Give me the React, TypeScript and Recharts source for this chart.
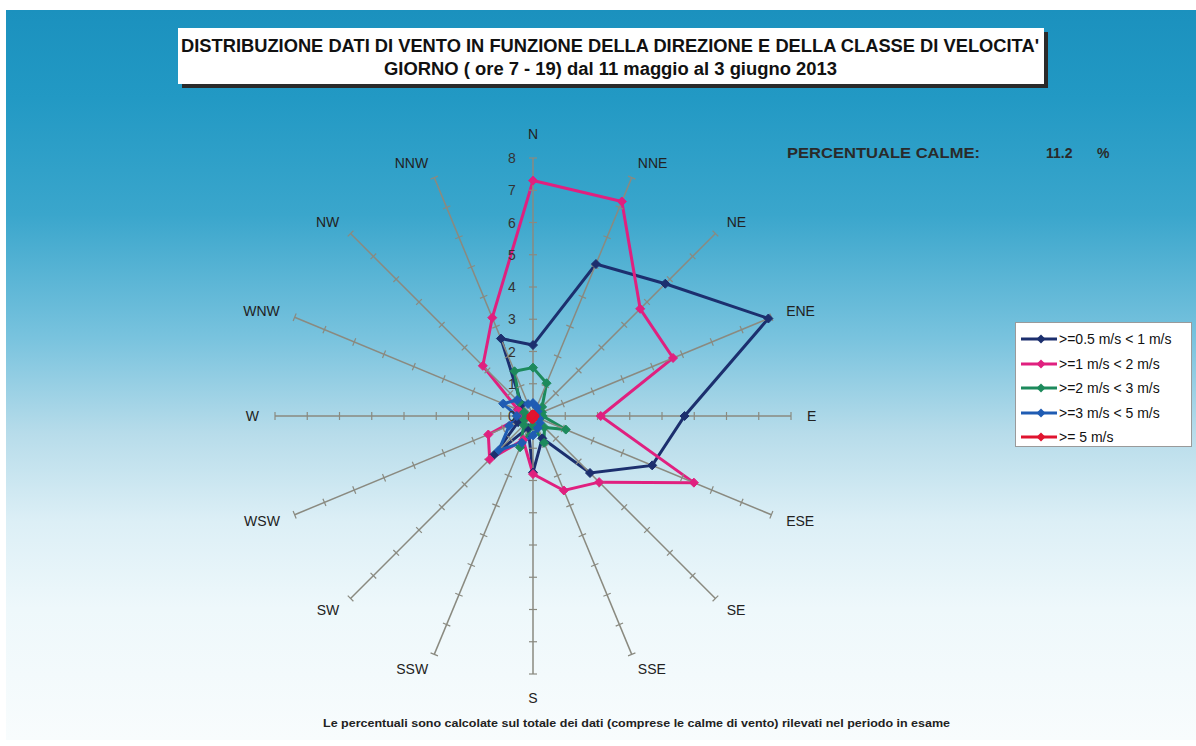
import React from 'react';
import { RadarChart, Radar, PolarAngleAxis, PolarRadiusAxis } from 'recharts';

const DIRECTIONS = ['N', 'NNE', 'NE', 'ENE', 'E', 'ESE', 'SE', 'SSE', 'S', 'SSW', 'SW', 'WSW', 'W', 'WNW', 'NW', 'NNW'];
const SPEED_05_1 = [2.2, 5.1, 5.8, 7.9, 4.7, 4.0, 2.5, 0.75, 1.75, 0.4, 1.7, 0.5, 0.3, 0.5, 0.5, 2.6];
const SPEED_1_2 = [7.3, 7.2, 4.7, 4.7, 2.1, 5.4, 2.9, 2.5, 1.8, 0.8, 1.9, 1.5, 0.3, 0.5, 2.2, 3.3];
const SPEED_2_3 = [1.5, 1.1, 0.4, 0.3, 0.3, 1.1, 0.5, 0.9, 0.3, 1.05, 0.4, 0.3, 0.2, 0.3, 0.6, 1.5];
const SPEED_3_5 = [0.4, 0.3, 0.2, 0.1, 0.1, 0.2, 0.3, 0.4, 0.6, 0.9, 1.5, 0.8, 0.5, 1.0, 0.7, 0.4];
const SPEED_5 = [0.05, 0.05, 0.05, 0.05, 0, 0.05, 0.05, 0.05, 0.1, 0.1, 0.1, 0.05, 0.05, 0.05, 0.05, 0.05];
const RADIUS_TICKS = [0, 1, 2, 3, 4, 5, 6, 7, 8];
const SERIES_NAMES = ['>=0.5 m/s < 1 m/s', '>=1 m/s < 2 m/s', '>=2 m/s < 3 m/s', '>=3 m/s < 5 m/s', '>= 5 m/s'];
const SERIES_KEYS = ['s1', 's2', 's3', 's4', 's5'];
const SERIES_COLORS = ['#1c2f6e', '#e0207f', '#1d8a5c', '#1f5cb3', '#e0142f'];
const TITLE_1 = "DISTRIBUZIONE DATI DI VENTO IN FUNZIONE DELLA DIREZIONE E DELLA CLASSE DI VELOCITA'";
const TITLE_2 = 'GIORNO ( ore 7 - 19) dal 11 maggio al 3 giugno 2013';
const CALME_LABEL = 'PERCENTUALE CALME:';
const CALME_VALUE = '11.2';
const FOOTER = 'Le percentuali sono calcolate sul totale dei dati (comprese le calme di vento) rilevati nel periodo in esame';

const data = DIRECTIONS.map((d, i) => ({
  dir: d,
  s1: SPEED_05_1[i],
  s2: SPEED_1_2[i],
  s3: SPEED_2_3[i],
  s4: SPEED_3_5[i],
  s5: SPEED_5[i],
}));

const CX = 533;
const CY = 416;
const R = 258;
const MAXV = 8;
const FONT = '"Liberation Sans", Arial, sans-serif';

const AngleTick = (props: any) => {
  const { payload } = props;
  const angle = payload.coordinate;
  const rad = (angle * Math.PI) / 180;
  const ux = Math.cos(rad);
  const uy = -Math.sin(rad);
  const px = -uy;
  const py = ux;
  const ends = { x: CX + ux * R, y: CY + uy * R };
  const marks = [];
  for (let k = 1; k <= MAXV; k++) {
    const r = (R * k) / MAXV;
    const mx = CX + ux * r;
    const my = CY + uy * r;
    marks.push(
      <line key={k} x1={mx - px * 4} y1={my - py * 4} x2={mx + px * 4} y2={my + py * 4} stroke="#8a8a80" strokeWidth={1.2} />
    );
  }
  const vertical = Math.abs(ux) < 0.1;
  const off = vertical ? 24 : 16;
  const lx = CX + ux * (R + off);
  const ly = CY + uy * (R + off);
  const anchor = Math.abs(ux) < 0.1 ? 'middle' : ux > 0 ? 'start' : 'end';
  return (
    <g>
      <line x1={CX} y1={CY} x2={ends.x} y2={ends.y} stroke="#8a8a80" strokeWidth={1.5} />
      {marks}
      <text x={lx} y={ly} textAnchor={anchor} dominantBaseline="central" fontSize={14} fontFamily={FONT} fill="#222">
        {payload.value}
      </text>
    </g>
  );
};

const RadiusTick = (props: any) => {
  const { x, y, payload } = props;
  return (
    <text x={x - 21} y={y} textAnchor="middle" dominantBaseline="central" fontSize={14} fontFamily={FONT} fill="#333">
      {payload.value}
    </text>
  );
};

const makeDot = (color: string) => (props: any) => {
  const { cx, cy, key } = props;
  if (cx == null || cy == null) return <g key={key} />;
  const s = 4.5;
  return (
    <path
      key={key}
      d={`M${cx},${cy - s} L${cx + s},${cy} L${cx},${cy + s} L${cx - s},${cy} Z`}
      fill={color}
      stroke={color}
      strokeWidth={1}
    />
  );
};

export default function App() {
  return (
    <div style={{ position: 'absolute', left: 0, top: 0, width: 1196, height: 746, background: '#fff', overflow: 'hidden' }}>
      <div
        style={{
          position: 'absolute',
          left: 6,
          top: 10,
          width: 1190,
          height: 730,
          background:
            'linear-gradient(to bottom, #1b91be 0%, #2299c4 12%, #3aa6cc 28%, #79c3de 45%, #b7dcea 58%, #dceff6 70%, #eef8fb 82%, #f8fcfd 100%)',
        }}
      />
      <div
        style={{
          position: 'absolute',
          left: 178,
          top: 28,
          width: 866,
          height: 56,
          background: '#fff',
          boxShadow: '4px 4px 0 #2a2a2a',
        }}
      />
      <svg style={{ position: 'absolute', left: 0, top: 0 }} width={1196} height={746}>
        <text x={181} y={52} fontSize={18} fontWeight="bold" fontFamily={FONT} fill="#111" textLength={858} lengthAdjust="spacingAndGlyphs">
          {TITLE_1}
        </text>
        <text x={384} y={75} fontSize={18} fontWeight="bold" fontFamily={FONT} fill="#111" textLength={453} lengthAdjust="spacingAndGlyphs">
          {TITLE_2}
        </text>
        <text x={787} y={158} fontSize={14} fontWeight="bold" fontFamily={FONT} fill="#2a2a2a" textLength={193} lengthAdjust="spacingAndGlyphs">
          {CALME_LABEL}
        </text>
        <text x={1046} y={158} fontSize={14} fontWeight="bold" fontFamily={FONT} fill="#2a2a2a">
          {CALME_VALUE}
        </text>
        <text x={1097} y={158} fontSize={14} fontWeight="bold" fontFamily={FONT} fill="#2a2a2a">
          %
        </text>
        <text x={323} y={727} fontSize={11.5} fontFamily={FONT} fill="#222" textLength={627} lengthAdjust="spacingAndGlyphs" style={{ fontWeight: 600 }}>
          {FOOTER}
        </text>
      </svg>
      <div style={{ position: 'absolute', left: 0, top: 0 }}>
        <RadarChart width={1196} height={746} data={data} cx={CX} cy={CY} outerRadius={R} startAngle={90} endAngle={-270} margin={{ top: 0, right: 0, bottom: 0, left: 0 }}>
          <PolarAngleAxis dataKey="dir" axisLine={false} tickLine={false} tick={<AngleTick />} />
          <PolarRadiusAxis angle={90} domain={[0, MAXV]} ticks={RADIUS_TICKS as any} tickCount={9} axisLine={false} tick={<RadiusTick />} />
          {SERIES_KEYS.map((k, i) => (
            <Radar
              key={k}
              name={SERIES_NAMES[i]}
              dataKey={k}
              stroke={SERIES_COLORS[i]}
              strokeWidth={3}
              fill="none"
              fillOpacity={0}
              dot={makeDot(SERIES_COLORS[i])}
              isAnimationActive={false}
            />
          ))}
        </RadarChart>
      </div>
      <div
        style={{
          position: 'absolute',
          left: 1015,
          top: 322,
          width: 177,
          height: 125,
          background: '#fff',
          border: '1px solid #9a9a9a',
          boxSizing: 'border-box',
        }}
      >
        {SERIES_NAMES.map((n, i) => (
          <div key={n} style={{ position: 'absolute', left: 4, top: 6 + i * 24.5, height: 20, display: 'flex', alignItems: 'center' }}>
            <svg width={38} height={12}>
              <line x1={1} y1={6} x2={37} y2={6} stroke={SERIES_COLORS[i]} strokeWidth={3} />
              <path d="M21,1.5 L25.5,6 L21,10.5 L16.5,6 Z" fill={SERIES_COLORS[i]} />
            </svg>
            <span style={{ fontFamily: FONT, fontSize: 14, color: '#111', marginLeft: 1, whiteSpace: 'nowrap' }}>{n}</span>
          </div>
        ))}
      </div>
    </div>
  );
}
